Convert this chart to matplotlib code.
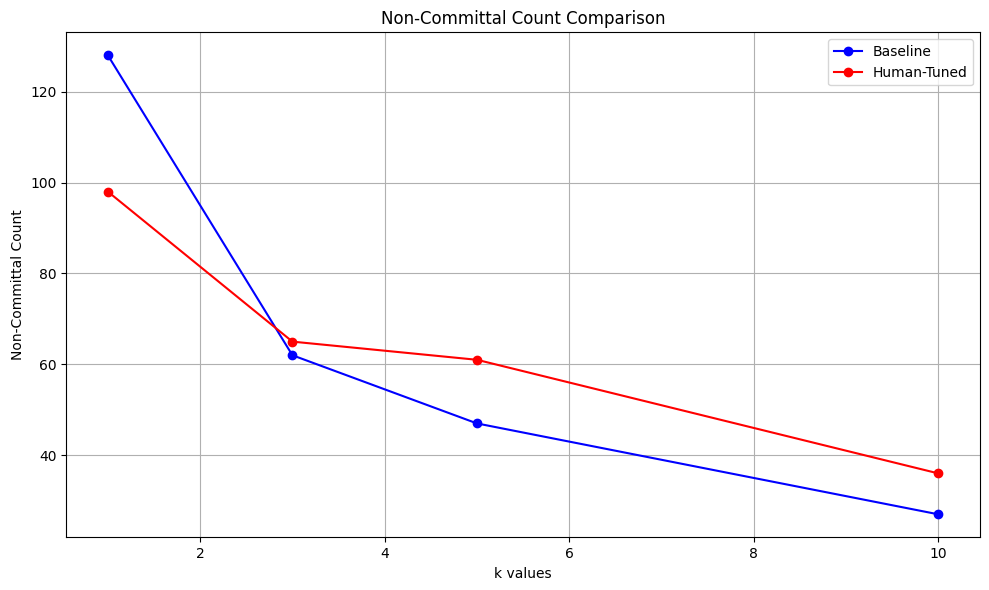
import matplotlib
matplotlib.use("Agg")
import matplotlib.pyplot as plt

k_values = [1, 3, 5, 10]
baseline = [128, 62, 47, 27]
human_tuned = [98, 65, 61, 36]

fig, ax = plt.subplots(figsize=(9.89, 5.9), dpi=100)
ax.plot(k_values, baseline, marker='o', color='blue', label='Baseline')
ax.plot(k_values, human_tuned, marker='o', color='red', label='Human-Tuned')
ax.set_title('Non-Committal Count Comparison')
ax.set_xlabel('k values')
ax.set_ylabel('Non-Committal Count')
ax.legend()
ax.grid(True)
fig.subplots_adjust(left=66.3/989, right=980/989, top=1 - 32.3/590, bottom=1 - 537.3/590)
fig.savefig('out.png', dpi=100)
